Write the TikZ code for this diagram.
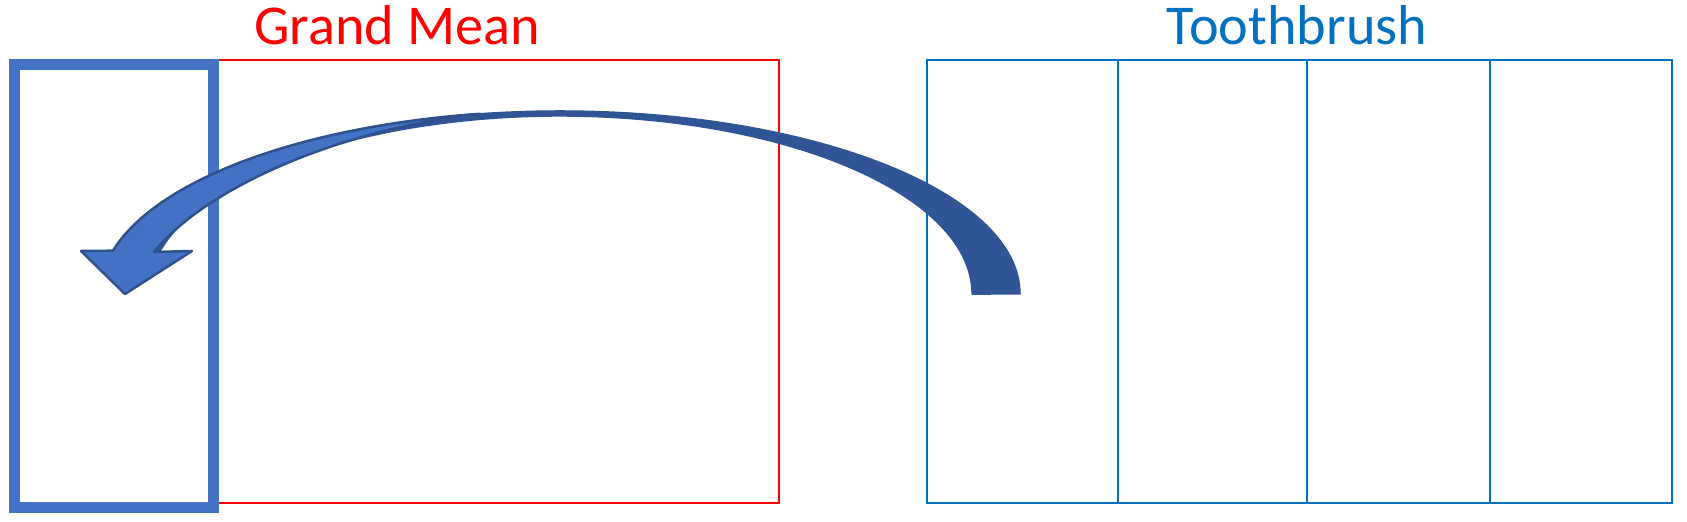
\documentclass[tikz,border=0pt]{standalone}
\usepackage{fontspec}
\setmainfont{Carlito}
\usepackage{xcolor}
\usetikzlibrary{positioning, calc}

\definecolor{meanred}{HTML}{FF0000}
\definecolor{brushblue}{HTML}{0070C0}
\definecolor{colblue}{HTML}{4472C4}
\definecolor{arrowdark}{HTML}{2F5597}
\definecolor{arrowedge}{HTML}{2F528F}

\begin{document}
\begin{tikzpicture}[x=0.2mm, y=0.2mm,
    title/.style={anchor=base, font=\fontsize{32}{38}\selectfont},
    thinbox/.style={line width=0.3mm},
    gridline/.style={brushblue, line width=0.4mm}]
    \useasboundingbox (0,0) rectangle (1687,522);

    % Titles
    \node[title, text=meanred] (meanlabel) at (397,477) {Grand Mean};
    \node[title, text=brushblue] (brushlabel) at (1297,477) {Toothbrush};

    % Grand mean box
    \draw[thinbox, meanred] (14,19) rectangle (779,462);

    % Toothbrush columns
    \draw[gridline] (927,19) rectangle (1672,462);
    \foreach \x in {1118,1307,1490}
        \draw[gridline] (\x,19) -- (\x,462);

    % First column of the mean box
    \draw[colblue, line width=2.2mm] (14.5,14.5) rectangle (213.5,457.5);

    % Arrow end points
    \coordinate (tail) at (1020,228);
    \coordinate (tip) at (125,228);

    % Curved arrow, back part
    \filldraw[arrowdark, line width=0.3mm, line join=round] (tail)
        arc[start angle=0, end angle=166.3, x radius=92mm, y radius=36.6mm]
        -- (154,271) -- (154.3,258.9)
        arc[start angle=170, end angle=0, x radius=82.4mm, y radius=35.6mm] -- cycle;

    % Curved arrow, front part and head
    \draw[arrowedge, line width=0.5mm, fill=colblue, line join=round] (113,271.3)
        arc[start angle=166.3, end angle=100, x radius=92mm, y radius=36.6mm]
        .. controls (340,393) and (205,334) .. (154,270)
        -- (192,271) -- (tip) -- (81,271) -- cycle;
\end{tikzpicture}
\end{document}
